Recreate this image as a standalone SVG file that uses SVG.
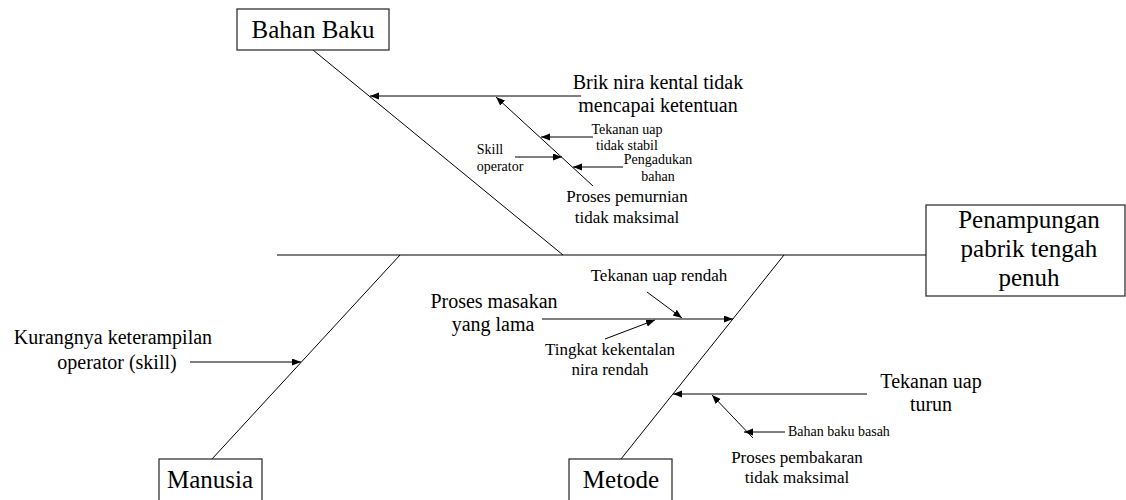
<svg xmlns="http://www.w3.org/2000/svg" width="1126" height="500" viewBox="0 0 1126 500">
  <style>
    .box { fill: #ffffff; stroke: #333333; stroke-width: 1.3; }
    .spine { stroke: #555555; stroke-width: 1.6; fill: none; }
    .bone { stroke: #000000; stroke-width: 1; fill: none; }
    .arr { stroke: #000000; stroke-width: 1; fill: none; marker-end: url(#head); }
    .big { font-size: 25px; text-anchor: middle; }
    .mid { font-size: 20px; text-anchor: middle; }
    .sub { font-size: 17px; text-anchor: middle; }
    .small { font-size: 14px; text-anchor: middle; }
  </style>
  <defs>
    <marker id="head" markerUnits="userSpaceOnUse" markerWidth="10" markerHeight="8" refX="9" refY="3.5" orient="auto">
      <path d="M0,0 L9,3.5 L0,7 z" fill="#000000"/>
    </marker>
  </defs>

  <rect width="1126" height="500" fill="#ffffff"/>

  <!-- connectors: spine, main bones, cause arrows -->
  <g id="connectors">
    <line class="spine" x1="277" y1="255" x2="926" y2="255"/>
    <line class="bone" x1="313" y1="50" x2="563" y2="255"/>
    <line class="bone" x1="400" y1="255" x2="212" y2="459"/>
    <line class="bone" x1="784" y1="255" x2="621" y2="459"/>

    <!-- Bahan Baku causes -->
    <line class="arr" x1="581" y1="96" x2="370" y2="96"/>
    <line class="arr" x1="593" y1="186" x2="496" y2="97"/>
    <line class="arr" x1="593" y1="137" x2="541" y2="137"/>
    <line class="arr" x1="515" y1="157" x2="562" y2="157"/>
    <line class="arr" x1="623" y1="167" x2="573" y2="167"/>

    <!-- Manusia cause -->
    <line class="arr" x1="190" y1="362" x2="301" y2="362"/>

    <!-- Metode causes -->
    <line class="arr" x1="542" y1="319" x2="733" y2="319"/>
    <line class="arr" x1="647" y1="292" x2="682" y2="318"/>
    <line class="arr" x1="605" y1="339" x2="655" y2="320"/>
    <line class="arr" x1="867" y1="394" x2="673" y2="394"/>
    <line class="arr" x1="753" y1="438" x2="712" y2="395"/>
    <line class="arr" x1="785" y1="432" x2="744" y2="432"/>
  </g>

  <g font-family="'Liberation Serif', 'DejaVu Serif', serif" fill="#000000">
    <!-- effect head -->
    <g id="effect">
      <rect class="box" x="926" y="205" width="199" height="91"/>
      <text class="big" x="1029" y="228">Penampungan</text>
      <text class="big" x="1029" y="257">pabrik tengah</text>
      <text class="big" x="1029" y="286">penuh</text>
    </g>

    <!-- categories -->
    <g id="bahan-baku">
      <rect class="box" x="237" y="9" width="152" height="41"/>
      <text class="big" x="313" y="38">Bahan Baku</text>
    </g>
    <g id="manusia">
      <rect class="box" x="159" y="459" width="103" height="50"/>
      <text class="big" x="210" y="488">Manusia</text>
    </g>
    <g id="metode">
      <rect class="box" x="569" y="459" width="103" height="50"/>
      <text class="big" x="621" y="488">Metode</text>
    </g>

    <!-- causes -->
    <g id="cause-brik">
      <text class="mid" x="658" y="89">Brik nira kental tidak</text>
      <text class="mid" x="658" y="112">mencapai ketentuan</text>
    </g>
    <g id="cause-pemurnian">
      <text class="sub" x="627" y="202">Proses pemurnian</text>
      <text class="sub" x="627" y="223">tidak maksimal</text>
    </g>
    <g id="cause-tekanan-stabil">
      <text class="small" x="627" y="134">Tekanan uap</text>
      <text class="small" x="627" y="150">tidak stabil</text>
    </g>
    <g id="cause-skill">
      <text class="small" x="490" y="154">Skill</text>
      <text class="small" x="500" y="171">operator</text>
    </g>
    <g id="cause-pengadukan">
      <text class="small" x="658" y="164">Pengadukan</text>
      <text class="small" x="658" y="181">bahan</text>
    </g>
    <g id="cause-keterampilan">
      <text class="mid" x="113" y="344">Kurangnya keterampilan</text>
      <text class="mid" x="117" y="369">operator (skill)</text>
    </g>
    <g id="cause-masakan">
      <text class="mid" x="494" y="308">Proses masakan</text>
      <text class="mid" x="493" y="331">yang lama</text>
    </g>
    <g id="cause-tekanan-rendah">
      <text class="sub" x="659" y="281">Tekanan uap rendah</text>
    </g>
    <g id="cause-kekentalan">
      <text class="sub" x="610" y="355">Tingkat kekentalan</text>
      <text class="sub" x="610" y="375">nira rendah</text>
    </g>
    <g id="cause-tekanan-turun">
      <text class="mid" x="931" y="388">Tekanan uap</text>
      <text class="mid" x="931" y="411">turun</text>
    </g>
    <g id="cause-pembakaran">
      <text class="sub" x="797" y="463">Proses pembakaran</text>
      <text class="sub" x="797" y="483">tidak maksimal</text>
    </g>
    <g id="cause-bahan-basah">
      <text class="small" x="788" y="436" text-anchor="start" style="text-anchor:start">Bahan baku basah</text>
    </g>
  </g>
</svg>
